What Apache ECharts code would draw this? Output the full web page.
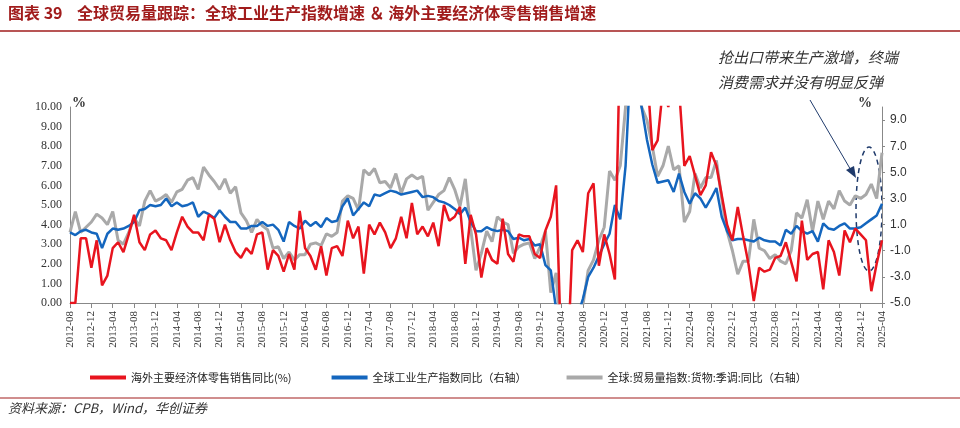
<!DOCTYPE html>
<html><head><meta charset="utf-8">
<script src="https://cdn.jsdelivr.net/npm/echarts@6/dist/echarts.min.js"></script>
<style>body{margin:0;background:#fff}#c{width:960px;height:428px}</style></head>
<body><div id="c"></div>
<script>
const startYear = 2012, startMonth = 8, nMonths = 153;
const retail = [
 0,0,3.3,3.3,1.8,
 3.2,0.9,1.4,2.8,3.1,2.6,3.5,4.5,3.1,2.7,3.5,3.7,
 3.3,3.2,2.7,3.6,4.4,3.9,3.6,3.6,3.2,4.5,4.3,3.1,
 4.0,3.2,2.6,2.3,2.8,2.5,3.5,3.6,1.7,2.7,2.4,1.6,
 2.5,1.7,4.7,2.8,2.4,1.7,2.9,1.4,2.8,2.9,2.4,4.2,
 3.3,3.9,1.5,4.0,3.5,4.1,3.6,2.8,3.3,4.4,3.3,5.1,
 3.5,3.9,3.4,4.1,2.9,5.0,4.2,4.4,4.9,2.0,4.5,3.5,
 1.3,2.8,2.2,2.0,4.3,2.5,2.1,3.5,3.4,3.4,2.5,2.3,
 3.7,4.4,6.0,-3,-4,2.7,3.2,2.6,5.6,6.1,1.9,3.5,
 2.5,1.2,14,20,25,20,15,12,7.8,8.3,11,10.0,
 12,11,7.0,7.5,6.5,5.5,6.0,7.7,7.0,5.5,4.0,3.2,
 4.9,3.4,2.0,0.1,1.8,1.6,1.7,2.3,2.4,3.1,2.1,1.1,
 4.2,2.2,2.5,2.6,0.7,3.2,2.6,1.4,3.7,3.1,3.8,3.5,
 3.2,0.6,2.0,3.2
];
const industry = [
 0.4,0.2,0.5,0.6,0.4,
 0.3,-0.8,0.3,0.7,0.6,0.7,0.9,1.2,2.1,2.2,2.5,2.4,
 2.5,3.0,2.4,2.7,2.4,2.5,2.7,1.6,2.0,1.8,1.5,2.1,
 1.6,1.2,1.2,0.7,0.7,0.9,0.9,1.2,0.9,1.0,0.6,-0.3,
 1.2,0.9,0.7,1.3,0.9,1.2,0.8,1.5,1.2,1.3,2.4,3.0,
 1.7,2.2,2.7,2.4,3.3,3.2,3.4,3.6,3.5,3.3,3.4,3.5,
 3.6,3.1,3.2,3.1,2.8,2.7,2.5,2.2,1.8,2.3,1.2,0.5,
 0.5,0.8,0.6,0.5,0.6,0.5,-0.1,0.0,-0.2,-0.1,-0.6,-0.5,
 -2.1,-2.5,-5.5,-10,-12,-8,-6,-4.7,-3.0,-2.3,-1.4,-0.5,
 0.3,2.5,1.4,5.5,14,12,10,7.5,5.6,4.2,4.3,4.4,
 3.5,4.9,3.5,2.6,3.4,3.0,2.3,3.0,3.8,1.6,0.5,-0.2,
 -0.1,-0.1,-0.2,-0.3,0.0,-0.2,-0.3,-0.3,-0.6,0.6,0.3,0.9,
 0.5,0.3,0.5,-0.3,1.1,0.7,0.6,0.9,1.1,0.7,0.7,0.8,
 1.1,1.4,1.7,2.6
];
const trade = [
 0.4,2.0,0.4,0.8,1.2,
 1.8,1.5,1.0,2.0,-0.2,-0.5,0.4,1.5,0.9,2.8,3.6,2.8,
 3.0,3.3,2.7,3.5,3.7,4.4,4.6,3.7,5.4,4.8,4.3,3.7,
 4.5,3.4,3.9,1.9,1.3,0.4,1.4,0.9,0.6,-0.8,-0.7,-1.6,
 -1.1,-1.7,-1.3,-1.3,-0.5,-0.4,-0.6,0.3,0.1,0.4,2.8,3.2,
 3.0,2.1,5.2,4.8,5.3,4.2,4.3,3.8,4.9,3.4,4.5,4.8,
 4.5,4.7,2.1,2.7,3.3,3.6,4.6,3.7,2.4,4.5,0.7,-2.5,
 -1.2,0.5,-0.3,1.6,1.2,1.0,-1.2,-0.7,-0.5,-0.4,-1.6,-0.7,
 0.5,-4.2,-2.7,-9,-12,-9,-6,-5.2,-2.5,-1.7,-0.2,0.8,
 5.1,4.4,5.5,10,16,13,10,9.0,7.0,4.7,5.5,7.0,
 5.2,5.5,1.2,2.0,4.9,3.8,4.6,4.6,5.9,3.0,0.5,-1.0,
 -2.8,-1.8,-1.8,1.4,-0.8,-1.0,-1.6,-1.3,-1.8,-2.0,-1.0,1.9,
 1.5,2.9,0.5,2.8,1.4,2.8,2.2,3.6,2.8,2.5,3.2,3.0,
 3.3,4.1,3.0,6.5
];
const months = [];
for (let i = 0; i < nMonths; i++) {
  const t = startYear * 12 + (startMonth - 1) + i;
  months.push(Math.floor(t / 12) + '-' + String(t % 12 + 1).padStart(2, '0'));
}
const serif = '"Liberation Serif","DejaVu Serif",serif';
const cjk = '"Noto Sans CJK SC",sans-serif';
const chart = echarts.init(document.getElementById('c'));
chart.setOption({
  animation: false,
  grid: {left: 70, right: 78, top: 107, bottom: 125},
  xAxis: {
    type: 'category', data: months, boundaryGap: false,
    axisLine: {lineStyle: {color: '#888'}},
    axisTick: {interval: 3, lineStyle: {color: '#888'}},
    axisLabel: {interval: 3, rotate: 90, color: '#333', fontFamily: serif, fontSize: 11}
  },
  yAxis: [
    {type: 'value', min: 0, max: 10, interval: 1, splitLine: {show: false},
     axisLine: {show: true, lineStyle: {color: '#888'}}, axisTick: {show: false},
     axisLabel: {formatter: v => v.toFixed(2), color: '#333', fontFamily: serif, fontSize: 12}},
    {type: 'value', min: -5, max: 10, interval: 2, splitLine: {show: false},
     axisLine: {show: true, lineStyle: {color: '#888'}}, axisTick: {show: true, length: 3},
     axisLabel: {showMaxLabel: false, formatter: v => v.toFixed(1), color: '#333', fontFamily: '"Liberation Sans",sans-serif', fontSize: 12}}
  ],
  legend: {
    bottom: 40, left: 85, itemGap: 40, itemWidth: 36, itemHeight: 4,
    icon: 'rect',
    textStyle: {fontFamily: cjk, fontSize: 11, color: '#222'},
    data: ['海外主要经济体零售销售同比(%)', '全球工业生产指数同比（右轴）', '全球:贸易量指数:货物:季调:同比（右轴）']
  },
  series: [
    {name: '海外主要经济体零售销售同比(%)', type: 'line', data: retail, yAxisIndex: 0, symbol: 'none',
     itemStyle: {color: '#E8141E'}, lineStyle: {width: 2.5, color: '#E8141E'}, z: 3},
    {name: '全球:贸易量指数:货物:季调:同比（右轴）', type: 'line', data: trade, yAxisIndex: 1, symbol: 'none',
     itemStyle: {color: '#A9A9A9'}, lineStyle: {width: 3, color: '#A9A9A9'}, z: 2},
    {name: '全球工业生产指数同比（右轴）', type: 'line', data: industry, yAxisIndex: 1, symbol: 'none',
     itemStyle: {color: '#1466BE'}, lineStyle: {width: 2.5, color: '#1466BE'}, z: 2}
  ],
  graphic: [
    {type: 'text', left: 8, top: 5, style: {text: '图表 39    全球贸易量跟踪：全球工业生产指数增速 ＆ 海外主要经济体零售销售增速',
      fill: '#A11C1C', font: 'bold 16px "Noto Sans CJK SC"'}},
    {type: 'line', shape: {x1: 0, y1: 31, x2: 960, y2: 31}, style: {stroke: '#A11C1C', lineWidth: 1.5}},
    {type: 'text', left: 72, top: 96, style: {text: '%', fill: '#333', font: 'bold 14px "Liberation Serif"'}},
    {type: 'text', left: 858, top: 96, style: {text: '%', fill: '#333', font: 'bold 14px "Liberation Serif"'}},
    {type: 'text', left: 718, top: 45, style: {text: '抢出口带来生产激增，终端\n消费需求并没有明显反弹', fill: '#333',
      font: 'italic 15px "Noto Sans CJK SC"', lineHeight: 25}},
    {type: 'line', shape: {x1: 810, y1: 100, x2: 852, y2: 172}, style: {stroke: '#1F3A6B', lineWidth: 1}},
    {type: 'polygon', shape: {points: [[856, 178], [846, 170], [854, 166]]}, style: {fill: '#1F3A6B'}},
    {type: 'ellipse', shape: {cx: 869, cy: 209, rx: 13, ry: 62}, style: {fill: 'none', stroke: '#1F3A6B', lineWidth: 1.5, lineDash: [5, 4]}},
    {type: 'line', shape: {x1: 0, y1: 398, x2: 960, y2: 398}, style: {stroke: '#A11C1C', lineWidth: 1}},
    {type: 'text', left: 8, top: 402, style: {text: '资料来源：CPB，Wind，华创证券', fill: '#333', font: 'italic 13px "Noto Sans CJK SC"'}}
  ]
});
</script></body></html>
